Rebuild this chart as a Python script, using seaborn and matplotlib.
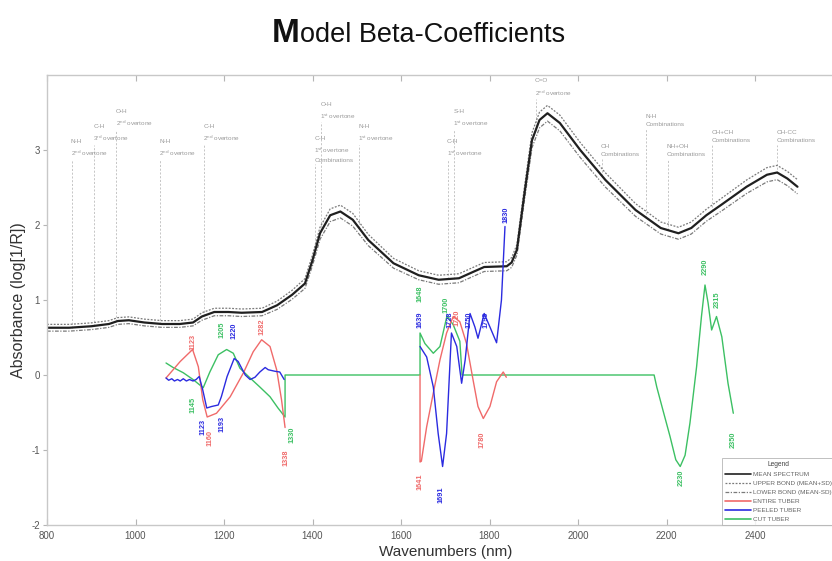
import numpy as np
import pandas as pd
import matplotlib
matplotlib.use("Agg")
import matplotlib.pyplot as plt
from matplotlib.lines import Line2D
import seaborn as sns

# ---------------- data ----------------
spec_nm = [800, 850, 900, 940, 960, 985, 1020, 1060, 1100, 1130, 1150, 1178, 1210, 1240, 1286,
           1320, 1354, 1383, 1400, 1417, 1440, 1463, 1491, 1526, 1583, 1640, 1685, 1731, 1765,
           1788, 1839, 1850, 1862, 1879, 1896, 1913, 1931, 1959, 2005, 2062, 2130, 2187, 2227,
           2256, 2290, 2324, 2381, 2427, 2450, 2473, 2496]
spec_mean = [0.63, 0.63, 0.65, 0.68, 0.72, 0.73, 0.70, 0.68, 0.68, 0.70, 0.78, 0.84, 0.84, 0.83, 0.84,
             0.93, 1.07, 1.22, 1.53, 1.89, 2.13, 2.18, 2.07, 1.80, 1.49, 1.33, 1.27, 1.29, 1.38,
             1.44, 1.45, 1.50, 1.67, 2.42, 3.13, 3.40, 3.49, 3.36, 3.00, 2.60, 2.20, 1.96, 1.89,
             1.96, 2.13, 2.27, 2.51, 2.67, 2.70, 2.62, 2.51]
spec_sd = [0.045, 0.045, 0.045, 0.045, 0.045, 0.045, 0.045, 0.045, 0.045, 0.045, 0.05, 0.05, 0.05, 0.05, 0.05,
           0.055, 0.06, 0.065, 0.07, 0.08, 0.085, 0.085, 0.085, 0.075, 0.065, 0.06, 0.06, 0.06, 0.06,
           0.06, 0.06, 0.065, 0.07, 0.09, 0.1, 0.105, 0.105, 0.105, 0.1, 0.095, 0.085, 0.08, 0.08,
           0.08, 0.08, 0.085, 0.09, 0.095, 0.095, 0.095, 0.095]

red_left_nm = [1069, 1101, 1129, 1142, 1152, 1162, 1183, 1214, 1244, 1266, 1285, 1304, 1319, 1330, 1338]
red_left_val = [-0.04, 0.18, 0.34, 0.11, -0.33, -0.56, -0.51, -0.29, 0.03, 0.31, 0.47, 0.38, 0.07, -0.33, -0.70]
red_mid_nm = [1643, 1643, 1646, 1658, 1673, 1688, 1703, 1718, 1733, 1748, 1763, 1774, 1786, 1801, 1816, 1831, 1838]
red_mid_val = [0.0, -1.16, -1.15, -0.69, -0.24, 0.20, 0.56, 0.78, 0.71, 0.42, -0.07, -0.42, -0.58, -0.42, -0.09, 0.04, -0.03]

blue_left_nm = [1069, 1075, 1082, 1088, 1095, 1101, 1108, 1115, 1122, 1130, 1137, 1144, 1152, 1161, 1172,
                1187, 1194, 1207, 1223, 1232, 1248, 1259, 1270, 1281, 1293, 1300, 1315, 1326, 1336]
blue_left_val = [-0.04, -0.07, -0.05, -0.08, -0.06, -0.08, -0.05, -0.08, -0.06, -0.08, -0.06, -0.02, -0.20, -0.44, -0.42,
                 -0.40, -0.29, -0.02, 0.22, 0.18, 0.0, -0.06, -0.03, 0.04, 0.10, 0.07, 0.05, 0.04, -0.06]
blue_mid_nm = [1643, 1658, 1673, 1684, 1694, 1703, 1714, 1726, 1737, 1745, 1756, 1767, 1774, 1788, 1801, 1816, 1827, 1835]
blue_mid_val = [0.38, 0.24, -0.16, -0.78, -1.22, -0.78, 0.56, 0.38, -0.11, 0.20, 0.82, 0.64, 0.49, 0.82, 0.64, 0.43, 1.00, 1.98]

green_nm = [1069, 1085, 1108, 1130, 1153, 1168, 1187, 1206, 1221, 1236, 1259, 1281, 1304, 1322, 1338,
            1338, 1643, 1643, 1654, 1673, 1688, 1704, 1718, 1733, 1738, 2172,
            2178, 2192, 2208, 2221, 2231, 2242, 2253, 2268, 2279, 2287, 2294, 2302, 2313, 2325, 2339, 2351]
green_val = [0.16, 0.10, 0.03, -0.06, -0.17, 0.04, 0.27, 0.34, 0.29, 0.09, -0.04, -0.16, -0.29, -0.44, -0.56,
             0.0, 0.0, 0.56, 0.42, 0.29, 0.38, 0.79, 0.67, 0.45, 0.0, 0.0,
             -0.16, -0.47, -0.82, -1.13, -1.22, -1.07, -0.64, 0.11, 0.78, 1.20, 0.96, 0.60, 0.78, 0.51, -0.11, -0.51]

# band annotations: x (nm), label-bottom (absorbance), text
band_x = [856, 907, 957, 1056, 1155, 1406, 1420, 1505, 1706, 1720, 1905, 2054, 2154, 2203, 2303, 2450]
band_top = [2.87, 3.07, 3.27, 2.87, 3.07, 2.81, 3.37, 3.07, 2.87, 3.27, 3.68, 2.88, 3.28, 2.88, 3.07, 3.07]
band_text = ["N-H\n2$^{nd}$ overtone", "C-H\n3$^{rd}$ overtone", "O-H\n2$^{nd}$ overtone",
             "N-H\n2$^{nd}$ overtone", "C-H\n2$^{nd}$ overtone", "C-H\n1$^{st}$ overtone\nCombinations",
             "O-H\n1$^{st}$ overtone", "N-H\n1$^{st}$ overtone", "C-H\n1$^{st}$ overtone",
             "S-H\n1$^{st}$ overtone", "C=O\n2$^{nd}$ overtone", "CH\nCombinations",
             "N-H\nCombinations", "NH+OH\nCombinations", "CH+CH\nCombinations", "CH-CC\nCombinations"]

# peak labels: text, x (nm), y (absorbance), series
peak_text = ["1123", "1205", "1220", "1282", "1145", "1123", "1160", "1193", "1338", "1330",
             "1648", "1639", "1700", "1728", "1720", "1750", "1790", "1830", "1641", "1691", "1780",
             "2290", "2315", "2230", "2350"]
peak_x = [1130, 1195, 1223, 1286, 1130, 1153, 1168, 1195, 1340, 1354,
          1643, 1643, 1702, 1711, 1727, 1754, 1792, 1837, 1643, 1690, 1783,
          2287, 2314, 2233, 2350]
peak_y = [0.44, 0.60, 0.59, 0.64, -0.40, -0.69, -0.84, -0.65, -1.10, -0.80,
          1.09, 0.73, 0.93, 0.73, 0.76, 0.73, 0.73, 2.13, -1.43, -1.60, -0.87,
          1.44, 1.00, -1.37, -0.87]
peak_series = ["r", "g", "b", "r", "g", "b", "r", "b", "r", "g",
               "g", "b", "g", "b", "r", "b", "b", "b", "r", "b", "r",
               "g", "g", "g", "g"]

x_ticks = [800, 1000, 1200, 1400, 1600, 1800, 2000, 2200, 2400]
y_ticks = [-2, -1, 0, 1, 2, 3]
legend_labels = ["MEAN SPECTRUM", "UPPER BOND (MEAN+SD)", "LOWER BOND (MEAN-SD)",
                 "ENTIRE TUBER", "PEELED TUBER", "CUT TUBER"]

# ---------------- style ----------------
sns.set_theme(style="white")
plt.rcParams['font.family'] = ['Liberation Sans', 'DejaVu Sans']
plt.rcParams['mathtext.fontset'] = 'custom'
plt.rcParams['mathtext.rm'] = 'Liberation Sans'
plt.rcParams['mathtext.it'] = 'Liberation Sans'

RED, BLUE, GREEN = '#f06a6a', '#2b2be0', '#3cc063'
cmap = {"r": RED, "b": BLUE, "g": GREEN}

fig = plt.figure(figsize=(8.32, 5.61), dpi=100)
ax = fig.add_axes([47 / 832, 36 / 561, 796.5 / 832, 450 / 561])

spec = pd.DataFrame({"nm": spec_nm, "mean": spec_mean, "sd": spec_sd})
spec["upper"] = spec["mean"] + spec["sd"]
spec["lower"] = spec["mean"] - spec["sd"]

sns.lineplot(data=spec, x="nm", y="upper", ax=ax, color='#7a7a7a', lw=0.9, linestyle=(0, (1.5, 1.2)))
sns.lineplot(data=spec, x="nm", y="lower", ax=ax, color='#7a7a7a', lw=0.9, linestyle=(0, (3, 1.2, 1, 1.2)))
sns.lineplot(data=spec, x="nm", y="mean", ax=ax, color='#202020', lw=1.6)

# annotation lines and labels
for x, top, txt in zip(band_x, band_top, band_text):
    base = np.interp(x, spec_nm, spec_mean)
    ax.plot([x, x], [base, top], color='#bdbdbd', lw=0.6, linestyle=(0, (2.5, 2)), zorder=1)
    ax.text(x - 2, top + 0.02, txt, fontsize=4.6, color='#9a9a9a', ha='left', va='bottom',
            linespacing=1.75)

def seg(nm, val, color):
    d = pd.DataFrame({"nm": nm, "val": val})
    sns.lineplot(data=d, x="nm", y="val", ax=ax, color=color, lw=1.0, sort=False, estimator=None)

seg(green_nm, green_val, GREEN)
seg(red_left_nm, red_left_val, RED)
seg(red_mid_nm, red_mid_val, RED)
seg(blue_left_nm, blue_left_val, BLUE)
seg(blue_mid_nm, blue_mid_val, BLUE)

for t, x, y, s in zip(peak_text, peak_x, peak_y, peak_series):
    ax.text(x, y, t, rotation=90, fontsize=5.3, fontweight='bold', color=cmap[s],
            ha='center', va='center')

ax.set_xlim(800, 2600)
ax.set_ylim(-2, 4)
ax.set_xticks(x_ticks)
ax.set_xticklabels([str(v) for v in x_ticks])
ax.set_yticks(y_ticks)
ax.set_yticklabels([str(v) for v in y_ticks])
ax.tick_params(axis='x', direction='in', top=True, bottom=True, length=4, width=0.8,
               color='#b5b5b5', labelsize=7, labelcolor='#555555', pad=4)
ax.tick_params(axis='y', direction='out', left=True, right=False, length=3, width=0.8,
               color='#b5b5b5', labelsize=7, labelcolor='#555555', pad=2)
for sp in ax.spines.values():
    sp.set_color('#c8c8c8')
    sp.set_linewidth(1.0)
ax.set_xlabel("Wavenumbers (nm)", fontsize=11, color='#333333', labelpad=3)
ax.set_ylabel("Absorbance (log[1/R])", fontsize=11.5, color='#333333', labelpad=4)

handles = [Line2D([], [], color='#202020', lw=1.2),
           Line2D([], [], color='#7a7a7a', lw=0.9, linestyle=(0, (1.5, 1.2))),
           Line2D([], [], color='#7a7a7a', lw=0.9, linestyle=(0, (3, 1.2, 1, 1.2))),
           Line2D([], [], color=RED, lw=1.2),
           Line2D([], [], color=BLUE, lw=1.2),
           Line2D([], [], color=GREEN, lw=1.2)]
leg = ax.legend(handles, legend_labels, loc='lower left',
                bbox_to_anchor=((722 - 47) / 796.5, 0.0), fontsize=4.6,
                title="Legend", title_fontsize=4.8, frameon=True, fancybox=False,
                borderaxespad=0, handlelength=4, labelspacing=0.55, borderpad=0.5,
                handletextpad=0.3)
leg.get_frame().set_edgecolor('#b0b0b0')
leg.get_frame().set_linewidth(0.7)
for t in leg.get_texts():
    t.set_color('#666666')
leg.get_title().set_color('#444444')

fig.text(272 / 832, 1 - 42 / 561, "M", fontsize=24, fontweight='bold', color='#111111', va='baseline')
fig.text(300 / 832, 1 - 42 / 561, "odel Beta-Coefficients", fontsize=19.5, color='#111111', va='baseline')

fig.savefig("out.png", dpi=100)
